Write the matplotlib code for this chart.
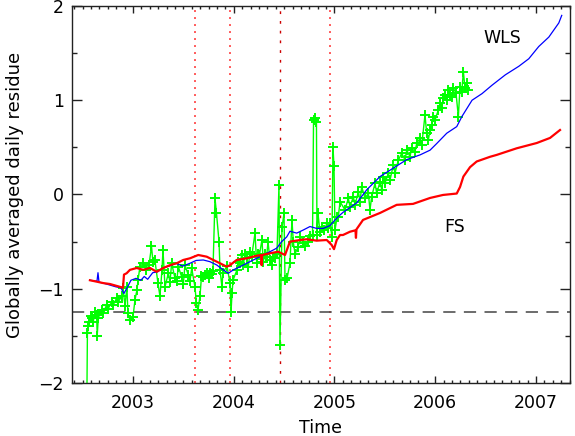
import numpy as np
import matplotlib
matplotlib.use("Agg")
import matplotlib.pyplot as plt
from matplotlib.ticker import MultipleLocator

# ---- data (time in decimal years) ----
green_t = [2002.543, 2002.548, 2002.557, 2002.563, 2002.583, 2002.590, 2002.606, 2002.623,
           2002.640, 2002.645, 2002.656, 2002.689, 2002.705, 2002.739, 2002.755, 2002.789,
           2002.805, 2002.838, 2002.854, 2002.888, 2002.901, 2002.921,
           2002.940, 2002.950, 2002.970, 2003.000, 2003.020, 2003.040, 2003.050, 2003.069,
           2003.099, 2003.129, 2003.159, 2003.184, 2003.199, 2003.218, 2003.248, 2003.268,
           2003.288, 2003.298, 2003.318, 2003.351, 2003.367, 2003.384, 2003.417, 2003.434,
           2003.450, 2003.483, 2003.500, 2003.516, 2003.549, 2003.566, 2003.583,
           2003.615, 2003.630, 2003.645, 2003.665, 2003.680, 2003.700, 2003.715, 2003.730,
           2003.750, 2003.764, 2003.780, 2003.794, 2003.814, 2003.829, 2003.854, 2003.864,
           2003.883, 2003.893, 2003.933, 2003.963, 2003.973, 2003.983, 2003.993, 2004.032,
           2004.045, 2004.062, 2004.079, 2004.095, 2004.112, 2004.129, 2004.145, 2004.161,
           2004.178, 2004.211, 2004.228, 2004.240, 2004.255, 2004.280, 2004.293, 2004.310,
           2004.327, 2004.340, 2004.360, 2004.377, 2004.390, 2004.409, 2004.429, 2004.449,
           2004.459, 2004.479, 2004.499, 2004.509, 2004.529, 2004.558, 2004.578, 2004.591,
           2004.608, 2004.638, 2004.660, 2004.687, 2004.707, 2004.737, 2004.760, 2004.782,
           2004.792, 2004.806, 2004.821, 2004.826, 2004.836, 2004.856, 2004.876, 2004.900,
           2004.926, 2004.940, 2004.955, 2004.975, 2004.985, 2004.995, 2005.005, 2005.025,
           2005.038, 2005.055, 2005.104, 2005.137, 2005.154, 2005.187, 2005.203, 2005.237,
           2005.253, 2005.270, 2005.303, 2005.336, 2005.352, 2005.369, 2005.402, 2005.419,
           2005.452, 2005.469, 2005.485, 2005.501, 2005.534, 2005.551, 2005.584, 2005.600,
           2005.634, 2005.667, 2005.700, 2005.717, 2005.749, 2005.766, 2005.799, 2005.816,
           2005.849, 2005.866, 2005.898, 2005.915, 2005.931, 2005.948, 2005.965, 2005.981,
           2005.998, 2006.030, 2006.047, 2006.064, 2006.080, 2006.097, 2006.114, 2006.130,
           2006.146, 2006.163, 2006.180, 2006.206, 2006.229, 2006.246, 2006.263, 2006.279,
           2006.295, 2006.312, 2006.328]
green_v = [-2.13, -1.47, -1.40, -1.35, -1.29, -1.31, -1.35, -1.25,
           -1.28, -1.50, -1.31, -1.225, -1.26, -1.17, -1.21, -1.14,
           -1.17, -1.10, -1.14, -1.08, -0.99, -1.18,
           -0.98, -1.26, -1.33, -1.30, -1.12, -1.01, -0.91, -0.77,
           -0.73, -0.80, -0.75, -0.55, -0.72, -0.70, -0.94, -1.08,
           -0.80, -0.59, -0.98, -0.836, -0.93, -0.73, -0.889, -0.92,
           -0.766, -0.872, -0.95, -0.748, -0.854, -0.92, -0.783,
           -0.98, -1.15, -1.23, -1.08, -0.87, -0.88, -0.85, -0.83,
           -0.89, -0.83, -0.84, -0.81, -0.04, -0.20, -0.50, -0.80,
           -0.98, -0.83, -0.76, -0.94, -1.25, -1.05, -0.91, -0.80,
           -0.713, -0.73, -0.642, -0.748, -0.63, -0.677, -0.766, -0.61,
           -0.66, -0.41, -0.73, -0.63, -0.642, -0.48, -0.713, -0.63,
           -0.66, -0.50, -0.70, -0.748, -0.66, -0.677, -0.63, 0.10,
           -1.60, -0.35, -0.20, -0.91, -0.89, -0.73, -0.27, -0.50,
           -0.63, -0.56, -0.45, -0.52, -0.55, -0.50, -0.44, -0.43,
           0.79, 0.81, 0.77, -0.43, -0.20, -0.40, -0.34, -0.38,
           -0.30, -0.36, -0.30, -0.45, 0.50, 0.30, -0.38, -0.24,
           -0.235, -0.076, -0.164, -0.041, -0.129, -0.023, -0.111, 0.030,
           -0.076, 0.083, -0.041, 0.012, -0.164, -0.023, 0.119, 0.012,
           0.136, 0.048, 0.189, 0.119, 0.225, 0.154, 0.313, 0.225,
           0.366, 0.437, 0.366, 0.472, 0.401, 0.490, 0.454, 0.543,
           0.596, 0.525, 0.844, 0.649, 0.578, 0.684, 0.737, 0.826,
           0.790, 0.897, 0.967, 0.914, 1.020, 1.056, 1.003, 1.109,
           1.056, 1.038, 1.127, 1.074, 0.826, 1.144, 1.091, 1.303,
           1.127, 1.180, 1.109]

wls_t = [2002.573, 2002.643, 2002.653, 2002.663, 2002.702, 2002.768, 2002.831, 2002.881,
         2002.910, 2002.947, 2002.980, 2003.030, 2003.079, 2003.112, 2003.146, 2003.196,
         2003.245, 2003.295, 2003.361, 2003.427, 2003.494, 2003.566, 2003.626, 2003.698,
         2003.764, 2003.831, 2003.896, 2003.946, 2003.996, 2004.062, 2004.129, 2004.228,
         2004.293, 2004.360, 2004.426, 2004.476, 2004.526, 2004.558, 2004.625, 2004.690,
         2004.757, 2004.823, 2004.889, 2004.955, 2005.022, 2005.084, 2005.220, 2005.320,
         2005.452, 2005.584, 2005.717, 2005.849, 2005.948, 2006.014, 2006.114, 2006.213,
         2006.266, 2006.365, 2006.464, 2006.564, 2006.696, 2006.829, 2006.928, 2007.027,
         2007.127, 2007.226, 2007.255]
wls_v = [-0.91, -0.92, -0.83, -0.93, -0.94, -0.96, -0.98, -0.99,
         -1.05, -0.98, -0.91, -0.89, -0.91, -0.87, -0.90, -0.83,
         -0.82, -0.78, -0.76, -0.73, -0.76, -0.73, -0.70, -0.695,
         -0.713, -0.748, -0.80, -0.836, -0.80, -0.766, -0.73, -0.677,
         -0.642, -0.607, -0.57, -0.50, -0.45, -0.39, -0.41, -0.377,
         -0.34, -0.36, -0.36, -0.33, -0.25, -0.19, -0.09, 0.05,
         0.19, 0.28, 0.37, 0.42, 0.47, 0.54, 0.65, 0.72,
         0.83, 1.00, 1.07, 1.16, 1.27, 1.36, 1.44, 1.57,
         1.67, 1.82, 1.90]

fs_t = [2002.573, 2002.640, 2002.705, 2002.772, 2002.838, 2002.888, 2002.901, 2002.911,
        2002.937, 2002.970, 2003.037, 2003.102, 2003.169, 2003.235, 2003.301, 2003.367,
        2003.434, 2003.499, 2003.566, 2003.648, 2003.732, 2003.797, 2003.864, 2003.930,
        2003.963, 2004.029, 2004.129, 2004.228, 2004.272, 2004.277, 2004.282, 2004.360,
        2004.442, 2004.509, 2004.558, 2004.658, 2004.724, 2004.823, 2004.923, 2004.972,
        2004.995, 2005.022, 2005.055, 2005.084, 2005.154, 2005.208, 2005.213, 2005.218,
        2005.283, 2005.452, 2005.617, 2005.779, 2005.948, 2006.077, 2006.213, 2006.246,
        2006.279, 2006.345, 2006.411, 2006.544, 2006.610, 2006.808, 2007.007, 2007.139,
        2007.238]
fs_v = [-0.91, -0.925, -0.94, -0.95, -0.97, -0.985, -0.99, -0.85,
        -0.836, -0.80, -0.78, -0.80, -0.78, -0.82, -0.78, -0.75,
        -0.73, -0.695, -0.677, -0.642, -0.66, -0.695, -0.73, -0.766,
        -0.75, -0.695, -0.677, -0.65, -0.642, -0.75, -0.642, -0.624,
        -0.607, -0.642, -0.50, -0.483, -0.475, -0.49, -0.483, -0.536,
        -0.58, -0.483, -0.43, -0.43, -0.395, -0.38, -0.46, -0.37,
        -0.27, -0.196, -0.11, -0.10, -0.037, -0.005, 0.01, 0.08,
        0.19, 0.29, 0.35, 0.40, 0.42, 0.49, 0.546, 0.60,
        0.684]

event_red = [2003.615, 2003.963, 2004.955]
event_dark = [2004.458]
threshold = -1.25

xlims = (2002.395, 2007.337)
ylims = (-2.0, 2.0)

plt.rcParams['font.family'] = ['DejaVu Sans']
fs = 12.5

fig = plt.figure(figsize=(5.75, 4.36), dpi=100)
ax = fig.add_axes([0.1252, 0.1216, 0.8661, 0.8647])

for xv in event_red:
    ax.axvline(xv, color='#ff5a5a', lw=1.4, linestyle=(0, (1, 2.6)), zorder=1)
for xv in event_dark:
    ax.axvline(xv, color='#cc0000', lw=1.0, linestyle=(0, (2, 5)), zorder=1)
ax.axhline(threshold, color='#444444', lw=1.1, linestyle=(0, (8, 5.5)), zorder=1)

ax.plot(green_t, green_v, color='#00ff00', lw=1.0, marker='+', ms=7, mew=1.4, zorder=2)
ax.plot(wls_t, wls_v, color='blue', lw=0.9, zorder=3)
ax.plot(fs_t, fs_v, color='red', lw=1.6, zorder=4)

ax.text(2006.663, 1.66, 'WLS', fontsize=fs, ha='center', va='center')
ax.text(2006.196, -0.34, 'FS', fontsize=fs, ha='center', va='center')

ax.set_xlim(*xlims)
ax.set_ylim(*ylims)
ax.xaxis.set_major_locator(MultipleLocator(1))
ax.xaxis.set_minor_locator(MultipleLocator(1 / 12))
ax.yaxis.set_major_locator(MultipleLocator(1))
ax.yaxis.set_minor_locator(MultipleLocator(0.5))
ax.tick_params(axis='both', which='both', direction='in', top=True, right=True,
               labelsize=fs, color='#222222')
ax.tick_params(axis='x', which='major', length=5, width=1, pad=8)
ax.tick_params(axis='x', which='minor', length=2.5, width=1)
ax.tick_params(axis='y', which='major', length=7.2, width=1, pad=6)
ax.tick_params(axis='y', which='minor', length=3.6, width=1)
for sp in ax.spines.values():
    sp.set_linewidth(1.0)
    sp.set_color('#222222')

ax.set_xlabel('Time', fontsize=fs, labelpad=5)
ax.set_ylabel('Globally averaged daily residue', fontsize=13, labelpad=10)

fig.savefig('out.png', dpi=100)
